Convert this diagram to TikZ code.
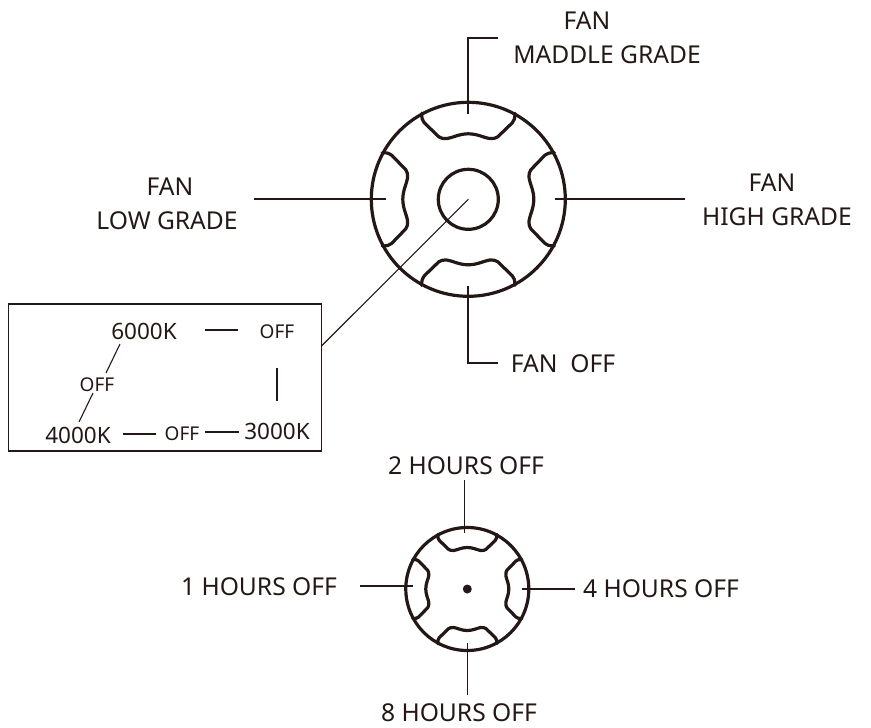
\documentclass[tikz,border=0pt]{standalone}
\usepackage{fontspec}
\setmainfont{Noto Sans}
\definecolor{ink}{HTML}{231815}
\tikzset{
  x=1pt,y=-1pt,
  lab/.style={font=\fontsize{24.6}{24}\selectfont,text=ink,inner sep=0pt,anchor=center},
  keylab/.style={font=\fontsize{22.5}{22}\selectfont,text=ink,inner sep=0pt,anchor=center},
  offlab/.style={font=\fontsize{19}{19}\selectfont,text=ink,inner sep=0pt,anchor=center},
  heavy/.style={draw=ink,line width=3.2pt,line join=round},
  thin line/.style={draw=ink,line width=1.1pt},
  pics/lobe/.style={code={
    \draw[heavy,line cap=round] (-46.7,-86) .. controls (-46.5,-81) and (-46,-78.5) .. (-44,-76.5) -- (-29.5,-62.5)
      .. controls (-28,-61) and (-25,-60.6) .. (-21,-60.8)
      .. controls (-16,-61.5) and (-9,-65.5) .. (0,-65.5)
      .. controls (9,-65.5) and (16,-61.5) .. (21,-60.8)
      .. controls (25,-60.6) and (28,-61) .. (29.5,-62.5) -- (44,-76.5)
      .. controls (46,-78.5) and (46.5,-81) .. (46.7,-86);
  }}
}
\begin{document}
\begin{tikzpicture}
\useasboundingbox (0,0) rectangle (871,728);
% large knob
\node[circle,heavy,minimum size=194pt,inner sep=0pt] (big) at (468.3,199.3) {};
\node[circle,heavy,minimum size=60pt,inner sep=0pt] (hub) at (468.3,199.3) {};
\foreach \a in {0,90,180,270}
  \pic[rotate=\a] at (big.center) {lobe};
% small knob
\node[circle,heavy,minimum size=123pt,inner sep=0pt] (small) at (467.3,589) {};
\node[circle,fill=ink,minimum size=9pt,inner sep=0pt] (dot) at (467.3,589) {};
\foreach \a in {0,90,180,270}
  \pic[rotate=\a,scale=0.634] at (small.center) {lobe};
% labels
\node[lab] (fanm1) at (587,21) {FAN};
\node[lab] (fanm2) at (607,55) {MADDLE GRADE};
\node[lab] (fanl1) at (170,187) {FAN};
\node[lab] (fanl2) at (167,221) {LOW GRADE};
\node[lab] (fanh1) at (772,183) {FAN};
\node[lab] (fanh2) at (777,217) {HIGH GRADE};
\node[lab] (fanoff) at (563,364) {FAN\ \ OFF};
\node[lab] (h2) at (466,466) {2 HOURS OFF};
\node[lab] (h1) at (259,587) {1 HOURS OFF};
\node[lab] (h4) at (661,589) {4 HOURS OFF};
\node[lab] (h8) at (459,713) {8 HOURS OFF};
% colour box
\node[draw=ink,line width=1.3pt,minimum width=313pt,minimum height=147pt,inner sep=0pt] (box) at (165,377.5) {};
\node[keylab] (k6) at (144,331) {6000K};
\node[offlab] (o1) at (277,332) {OFF};
\node[offlab] (o2) at (97,385) {OFF};
\node[keylab] (k4) at (78,435) {4000K};
\node[offlab] (o3) at (182,434) {OFF};
\node[keylab] (k3) at (277,431) {3000K};
% connector ends
\coordinate (a1) at (498,38); \coordinate (a2) at (468,38); \coordinate (a3) at (468,114);
\coordinate (b1) at (254,199); \coordinate (b2) at (386,199);
\coordinate (c1) at (555,199); \coordinate (c2) at (685,199);
\coordinate (d1) at (468,286); \coordinate (d2) at (468,363); \coordinate (d3) at (498,363);
\coordinate (e1) at (321.5,346); \coordinate (e2) at (468.3,199.3);
\coordinate (f1) at (464.5,480); \coordinate (f2) at (464.5,533);
\coordinate (g1) at (360,586); \coordinate (g2) at (413,586);
\coordinate (i1) at (522,589); \coordinate (i2) at (575,589);
\coordinate (j1) at (467.5,643); \coordinate (j2) at (467.5,695);
\draw[thin line] (a1) -- (a2) -- (a3);
\draw[thin line] (b1) -- (b2);
\draw[thin line] (c1) -- (c2);
\draw[thin line] (d1) -- (d2) -- (d3);
\draw[thin line] (e1) -- (e2);
\draw[thin line] (f1) -- (f2);
\draw[thin line] (g1) -- (g2);
\draw[thin line] (i1) -- (i2);
\draw[thin line] (j1) -- (j2);
% box connectors
\coordinate (m1) at (205,330); \coordinate (m2) at (238,330);
\coordinate (m3) at (277,368); \coordinate (m4) at (277,401);
\coordinate (m5) at (120,344); \coordinate (m6) at (106,373);
\coordinate (m7) at (93,393); \coordinate (m8) at (79,422);
\coordinate (m9) at (123,434); \coordinate (m10) at (156,434);
\coordinate (m11) at (205,432); \coordinate (m12) at (239,432);
\draw[thin line] (m1) -- (m2);
\draw[thin line] (m3) -- (m4);
\draw[thin line] (m5) -- (m6);
\draw[thin line] (m7) -- (m8);
\draw[thin line] (m9) -- (m10);
\draw[thin line] (m11) -- (m12);
\end{tikzpicture}
\end{document}
